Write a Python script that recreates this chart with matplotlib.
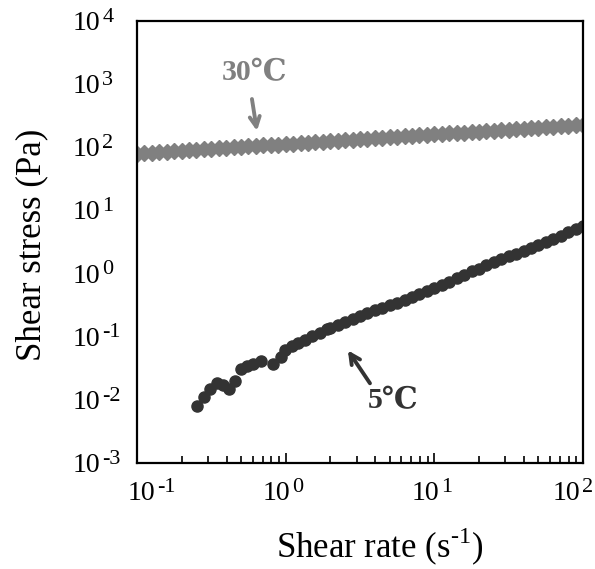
import matplotlib
matplotlib.use('Agg')
import matplotlib.pyplot as plt
from matplotlib.ticker import FixedLocator, LogLocator, NullFormatter

plt.rcParams['font.family'] = ['Liberation Serif', 'DejaVu Serif']
plt.rcParams['mathtext.fontset'] = 'custom'
plt.rcParams['mathtext.rm'] = 'Liberation Serif'

# 30 ℃ : 剪切速率 / 剪切应力
rate_30 = [0.1, 0.112, 0.126, 0.141, 0.158, 0.178, 0.2, 0.224, 0.251, 0.282,
           0.316, 0.355, 0.398, 0.447, 0.501, 0.562, 0.631, 0.708, 0.794, 0.891,
           1.0, 1.12, 1.26, 1.41, 1.58, 1.78, 2.0, 2.24, 2.51, 2.82,
           3.16, 3.55, 3.98, 4.47, 5.01, 5.62, 6.31, 7.08, 7.94, 8.91,
           10.0, 11.2, 12.6, 14.1, 15.8, 17.8, 20.0, 22.4, 25.1, 28.2,
           31.6, 35.5, 39.8, 44.7, 50.1, 56.2, 63.1, 70.8, 79.4, 89.1, 100.0]
stress_30 = [79.4, 80.8, 82.3, 83.7, 85.2, 86.7, 88.2, 89.8, 91.4, 93.0,
             94.6, 96.3, 98.0, 99.7, 101.5, 103.3, 105.1, 107.0, 108.8, 110.8,
             112.7, 114.7, 116.7, 118.8, 120.9, 123.0, 125.2, 127.4, 129.7, 131.9,
             134.3, 136.7, 139.1, 141.5, 144.0, 146.6, 149.2, 151.8, 154.5, 157.2,
             160.0, 162.8, 165.7, 168.6, 171.6, 174.6, 177.7, 180.8, 184.0, 187.3,
             190.5, 193.9, 197.3, 200.8, 204.4, 208.0, 211.6, 215.4, 219.2, 223.0, 227.0]

# 5 ℃
rate_5 = [0.253, 0.282, 0.310, 0.345, 0.378, 0.416, 0.456, 0.500, 0.550, 0.603,
          0.678, 0.822, 0.925, 0.989, 1.096, 1.216, 1.349, 1.496, 1.702, 1.888,
          2.0, 2.24, 2.51, 2.82, 3.16, 3.55, 3.98, 4.47, 5.01, 5.62,
          6.31, 7.08, 7.94, 8.91, 10.0, 11.2, 12.6, 14.1, 15.8, 17.8,
          20.0, 22.4, 25.1, 28.2, 31.6, 35.5, 39.8, 44.7, 50.1, 56.2,
          63.1, 70.8, 79.4, 89.1, 100.0]
stress_5 = [0.0079, 0.0110, 0.0147, 0.0183, 0.0170, 0.0147, 0.0197, 0.0304, 0.0340, 0.0365,
            0.0407, 0.0372, 0.0476, 0.0608, 0.0703, 0.0793, 0.0897, 0.1012, 0.1140, 0.1337,
            0.140, 0.153, 0.171, 0.190, 0.212, 0.236, 0.261, 0.287, 0.316, 0.348,
            0.383, 0.427, 0.475, 0.530, 0.589, 0.662, 0.748, 0.845, 0.955, 1.08,
            1.20, 1.35, 1.51, 1.68, 1.87, 2.07, 2.31, 2.56, 2.84, 3.19,
            3.57, 4.01, 4.50, 5.04, 5.65]

x_ticks = [0.1, 1, 10, 100]
x_exp = ['-1', '0', '1', '2']
y_ticks = [1e-3, 1e-2, 1e-1, 1, 10, 100, 1e3, 1e4]
y_exp = ['-3', '-2', '-1', '0', '1', '2', '3', '4']

fig = plt.figure(figsize=(5.95, 5.69), dpi=100)
ax = fig.add_axes([0.2303, 0.1863, 0.7495, 0.7767])

ax.plot(rate_30, stress_30, linestyle='none', marker='D', ms=8.2,
        color='#808080', mec='#808080')
ax.plot(rate_5, stress_5, linestyle='none', marker='o', ms=8,
        color='#333333', mec='#333333')

ax.set_xscale('log')
ax.set_yscale('log')
ax.set_xlim(0.1, 100)
ax.set_ylim(1e-3, 1e4)

ax.xaxis.set_major_locator(FixedLocator(x_ticks))
ax.xaxis.set_minor_locator(LogLocator(base=10, subs=range(2, 10)))
ax.xaxis.set_minor_formatter(NullFormatter())
ax.yaxis.set_major_locator(FixedLocator(y_ticks))
ax.yaxis.set_minor_locator(FixedLocator([]))

ax.tick_params(axis='x', which='major', direction='in', length=7, width=1.2,
               labelbottom=False)
ax.tick_params(axis='x', which='minor', direction='in', length=5, width=1.2)
ax.tick_params(axis='y', which='major', length=0, labelleft=False)

for s in ax.spines.values():
    s.set_linewidth(1.6)

# 刻度标签：10 + 上标（手工放置，Excel 风格）
x_shift = [13, 3, 3.6, -2.2]   # "10" 右端相对刻度的偏移 (pt)
for t, e, dx in zip(x_ticks, x_exp, x_shift):
    ax.annotate('10', xy=(t, 0), xycoords=ax.get_xaxis_transform(),
                xytext=(dx, -26.6), textcoords='offset points',
                ha='right', va='baseline', fontsize=20, annotation_clip=False)
    ax.annotate(e, xy=(t, 0), xycoords=ax.get_xaxis_transform(),
                xytext=(dx + 1.5, -20.6), textcoords='offset points',
                ha='left', va='baseline', fontsize=16, annotation_clip=False)
for t, e in zip(y_ticks, y_exp):
    ax.annotate('10', xy=(0, t), xycoords=ax.get_yaxis_transform(),
                xytext=(-26.6, -6.5), textcoords='offset points',
                ha='right', va='baseline', fontsize=20, annotation_clip=False)
    ax.annotate(e, xy=(0, t), xycoords=ax.get_yaxis_transform(),
                xytext=(-25.1, -0.5), textcoords='offset points',
                ha='left', va='baseline', fontsize=16, annotation_clip=False)

ax.text(0.545, -0.19, 'Shear rate (s$^{\\mathregular{\u20101}}$)', transform=ax.transAxes,
        fontsize=25, ha='center', va='center')
ax.text(-0.2354, 0.493, 'Shear stress (Pa)', transform=ax.transAxes,
        fontsize=25, ha='center', va='center', rotation=90)

# 标注
ax.text(0.621, 1496, '30℃', fontsize=21.5, fontweight='bold', color='#808080',
        ha='center', va='center')
ax.annotate('', xy=(0.641, 182), xytext=(0.593, 582),
            arrowprops=dict(arrowstyle='->', color='#808080', lw=2.8,
                            mutation_scale=18, shrinkA=0, shrinkB=0))
ax.text(5.27, 0.00986, '5℃', fontsize=21.5, fontweight='bold', color='#333333',
        ha='center', va='center')
ax.annotate('', xy=(2.62, 0.0608), xytext=(3.69, 0.0183),
            arrowprops=dict(arrowstyle='->', color='#333333', lw=2.8,
                            mutation_scale=18, shrinkA=0, shrinkB=0))

fig.savefig('out.png', dpi=100)
